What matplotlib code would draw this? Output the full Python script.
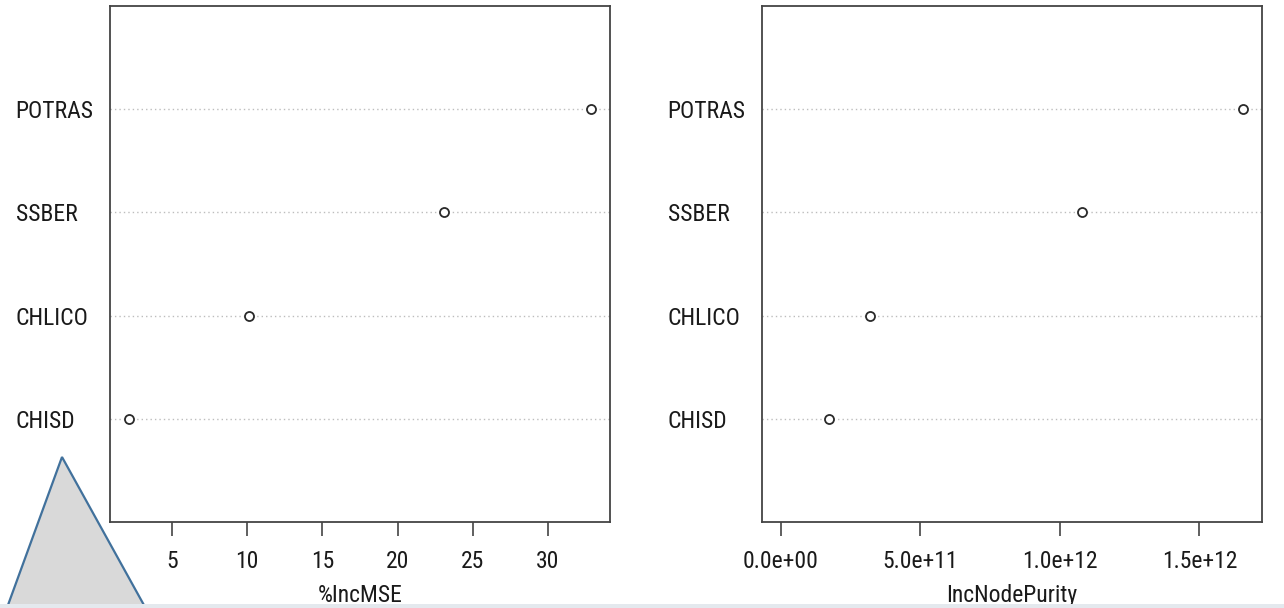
import numpy as np
import matplotlib.pyplot as plt
from matplotlib.patches import Polygon, Rectangle

plt.rcParams['font.family'] = ['Roboto Condensed', 'Liberation Sans', 'DejaVu Sans']

# datos
variables   = ["CHISD", "CHLICO", "SSBER", "POTRAS"]
inc_mse     = [2.1, 10.1, 23.1, 32.9]
inc_purity  = [0.172e12, 0.321e12, 1.081e12, 1.658e12]

mse_ticks       = [5, 10, 15, 20, 25, 30]
purity_ticks    = [0.0, 5.0e11, 1.0e12, 1.5e12]
purity_labels   = ["0.0e+00", "5.0e+11", "1.0e+12", "1.5e+12"]

W, H = 1284, 608
fs = 17
fig = plt.figure(figsize=(W/100, H/100), dpi=100)

def dot_panel(ax, vals, xmin, ticks, ticklabels, xlabel):
    y = np.arange(1, len(vals)+1)
    for yy in y:
        ax.axhline(yy, color='#bdbdbd', lw=1.0, ls=(0, (1, 2.2)), zorder=1)
    ax.plot(vals, y, ls='none', marker='o', ms=6.5, mfc='white',
            mec='#2a2a2a', mew=1.3, zorder=3)
    lo = xmin; hi = max(vals); r = hi - lo          # como R: 4% de margen
    ax.set_xlim(lo - 0.04*r, hi + 0.04*r)
    ax.set_ylim(0, len(vals)+1)
    ax.set_yticks(y)
    ax.set_yticklabels(variables, ha='left', fontsize=fs, color='#1a1a1a')
    ax.tick_params(axis='y', length=0, pad=68)
    ax.set_xticks(ticks)
    if ticklabels is not None:
        ax.set_xticklabels(ticklabels)
    ax.tick_params(axis='x', direction='out', length=10, width=1.2,
                   color='#444444', labelsize=fs, labelcolor='#1a1a1a', pad=10)
    ax.set_xlabel(xlabel, fontsize=fs, color='#1a1a1a', labelpad=8)
    for s in ax.spines.values():
        s.set_color('#444444'); s.set_linewidth(1.3)

ax1 = fig.add_axes([110/W, (H-522)/H, 500/W, 516/H])
dot_panel(ax1, inc_mse, min(inc_mse), mse_ticks, None, "%IncMSE")

ax2 = fig.add_axes([762/W, (H-522)/H, 500/W, 516/H])
dot_panel(ax2, inc_purity, 0.0, purity_ticks, purity_labels, "IncNodePurity")

# triangulo decorativo y franja inferior
tri = Polygon([[62/W, (H-457)/H], [4/W, -8/H], [150/W, -8/H]], closed=True,
              transform=fig.transFigure, facecolor='#d9d9d9', edgecolor='#41719c',
              lw=1.6, clip_on=False)
fig.add_artist(tri)
fig.add_artist(Rectangle((0, 0), 1, 4/H, transform=fig.transFigure,
                         facecolor='#e4e9ee', edgecolor='none'))

plt.savefig("out.png", dpi=100)
